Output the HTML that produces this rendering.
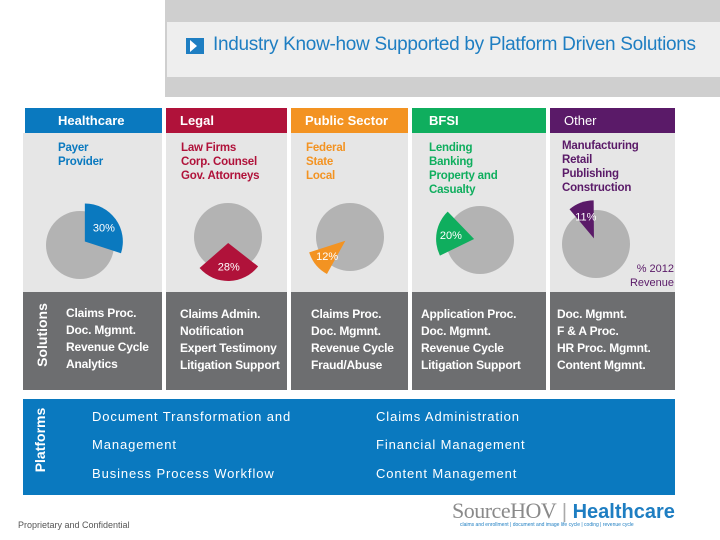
<!DOCTYPE html>
<html><head><meta charset="utf-8"><style>
*{margin:0;padding:0;box-sizing:border-box}
body{width:720px;height:540px;background:#fff;position:relative;overflow:hidden;font-family:"Liberation Sans",sans-serif}
.abs{position:absolute}
.hdr{position:absolute;top:108px;height:25px;color:#fff;font-size:13px;font-weight:bold;line-height:25px;padding-left:14px}
.pan{position:absolute;top:133px;height:159px;background:#e6e6e6}
.sub{position:absolute;top:141px;font-size:11.5px;font-weight:bold;line-height:14px;letter-spacing:-0.2px}
.sol{position:absolute;top:292px;height:98px;background:#6d6e70;color:#fff;font-size:12px;font-weight:bold;line-height:17px;padding-top:13px;letter-spacing:-0.2px}
.plat{position:absolute;color:#fff;font-size:13px;letter-spacing:0.9px}
.vert{position:absolute;color:#fff;font-weight:bold;font-size:14px;transform:rotate(-90deg);transform-origin:center;white-space:nowrap}
</style></head><body>
<div class="abs" style="left:165px;top:0;width:555px;height:97px;background:#cfcfcf"></div>
<div class="abs" style="left:167px;top:22px;width:553px;height:55px;background:#eeeeee"></div>
<svg class="abs" style="left:186px;top:38px" width="18" height="16"><rect width="18" height="16" fill="#1e7ec2"/><path d="M4 2 L11 8 L4 14 Z" fill="#fff"/></svg>
<div class="abs" style="left:213px;top:34px;font-size:19px;color:#1e7ec2;letter-spacing:-0.3px">Industry Know-how Supported by Platform Driven Solutions</div>

<div class="hdr" style="left:25px;width:137px;background:#0a79bf;padding-left:33px">Healthcare</div>
<div class="hdr" style="left:166px;width:121px;background:#b0123a">Legal</div>
<div class="hdr" style="left:291px;width:117px;background:#f39322">Public Sector</div>
<div class="hdr" style="left:412px;width:134px;background:#0fae5e;padding-left:17px">BFSI</div>
<div class="hdr" style="left:550px;width:125px;background:#5a1a68;font-weight:normal">Other</div>

<div class="pan" style="left:23px;width:139px"></div>
<div class="pan" style="left:166px;width:121px"></div>
<div class="pan" style="left:291px;width:117px"></div>
<div class="pan" style="left:412px;width:134px"></div>
<div class="pan" style="left:550px;width:125px"></div>

<div class="sub" style="left:58px;color:#0a79bf">Payer<br>Provider</div>
<div class="sub" style="left:181px;color:#b0123a">Law Firms<br>Corp. Counsel<br>Gov. Attorneys</div>
<div class="sub" style="left:306px;color:#f39322">Federal<br>State<br>Local</div>
<div class="sub" style="left:429px;color:#0fae5e">Lending<br>Banking<br>Property and<br>Casualty</div>
<div class="sub" style="left:562px;top:139px;color:#5a1a68">Manufacturing<br>Retail<br>Publishing<br>Construction</div>
<div class="abs" style="left:622px;top:262px;font-size:11px;line-height:14px;color:#5a1a68;text-align:right;width:52px">% 2012<br>Revenue</div>

<svg id="pies" class="abs" style="left:0;top:0" width="720" height="300"></svg>

<div class="sol" style="left:23px;width:139px;padding-left:43px">Claims Proc.<br>Doc. Mgmnt.<br>Revenue Cycle<br>Analytics</div>
<div class="sol" style="left:166px;width:121px;padding-left:14px;padding-top:14px">Claims Admin.<br>Notification<br>Expert Testimony<br>Litigation Support</div>
<div class="sol" style="left:291px;width:117px;padding-left:20px;padding-top:14px">Claims Proc.<br>Doc. Mgmnt.<br>Revenue Cycle<br>Fraud/Abuse</div>
<div class="sol" style="left:412px;width:134px;padding-left:9px;padding-top:14px">Application Proc.<br>Doc. Mgmnt.<br>Revenue Cycle<br>Litigation Support</div>
<div class="sol" style="left:550px;width:125px;padding-left:7px;padding-top:14px">Doc. Mgmnt.<br>F &amp; A Proc.<br>HR Proc. Mgmnt.<br>Content Mgmnt.</div>
<div class="vert" style="left:5px;top:327px;width:74px;text-align:center">Solutions</div>

<div class="abs" style="left:23px;top:399px;width:652px;height:96px;background:#0a79bf"></div>
<div class="vert" style="left:3px;top:432px;width:74px;text-align:center">Platforms</div>
<div class="plat" style="left:92px;top:409px">Document Transformation and</div>
<div class="plat" style="left:92px;top:437px">Management</div>
<div class="plat" style="left:92px;top:466px">Business Process Workflow</div>
<div class="plat" style="left:376px;top:409px">Claims Administration</div>
<div class="plat" style="left:376px;top:437px">Financial Management</div>
<div class="plat" style="left:376px;top:466px">Content Management</div>

<div class="abs" style="left:18px;top:520px;font-size:9px;color:#555">Proprietary and Confidential</div>
<div class="abs" style="left:452px;top:498px;white-space:nowrap"><span style="font-family:'Liberation Serif',serif;font-size:22px;color:#8a8a8a;letter-spacing:-0.5px">SourceHOV</span><span style="color:#aaa;font-size:20px"> | </span><span style="font-size:20px;font-weight:bold;color:#1e7ec2">Healthcare</span></div>
<div class="abs" style="left:460px;top:522px;font-size:5px;color:#1e7ec2;white-space:nowrap">claims and enrollment | document and image life cycle | coding | revenue cycle</div>

<script>
const sectors=["Healthcare","Legal","Public Sector","BFSI","Other"];
const shares=[30,28,12,20,11];
const colors=["#0a79bf","#b0123a","#f39322","#0fae5e","#5a1a68"];
const cx=[80,228,350,480,596], cy=[245,237,237,240,244];
const startDeg=[0,128,209,244,320];
const NS="http://www.w3.org/2000/svg";
const svg=document.getElementById('pies');
const R=34, RS=38, OFF=6;
function pt(x,y,r,a){const t=(a-90)*Math.PI/180;return [x+r*Math.cos(t),y+r*Math.sin(t)];}
shares.forEach((v,i)=>{
  const c=document.createElementNS(NS,'circle');
  c.setAttribute('cx',cx[i]);c.setAttribute('cy',cy[i]);c.setAttribute('r',R);c.setAttribute('fill','#b3b3b3');
  
  
  svg.appendChild(c);
  const a0=startDeg[i], a1=a0+v*3.6, mid=(a0+a1)/2;
  const [ox,oy]=pt(0,0,OFF,mid);
  const x=cx[i]+ox,y=cy[i]+oy;
  const [x0,y0]=pt(x,y,RS,a0),[x1,y1]=pt(x,y,RS,a1);
  const p=document.createElementNS(NS,'path');
  p.setAttribute('d',`M${x},${y} L${x0},${y0} A${RS},${RS} 0 ${v*3.6>180?1:0} 1 ${x1},${y1} Z`);
  p.setAttribute('fill',colors[i]);
  
  
  svg.appendChild(p);
  const [lx,ly]=pt(x,y,RS*0.62,mid);
  const t=document.createElementNS(NS,'text');
  t.setAttribute('x',lx);t.setAttribute('y',ly+4);t.setAttribute('text-anchor','middle');
  t.setAttribute('font-size','11');t.setAttribute('fill','#fff');t.setAttribute('font-family','Liberation Sans, sans-serif');
  t.textContent=v+'%';
  
  
  svg.appendChild(t);
});
</script>
</body></html>
